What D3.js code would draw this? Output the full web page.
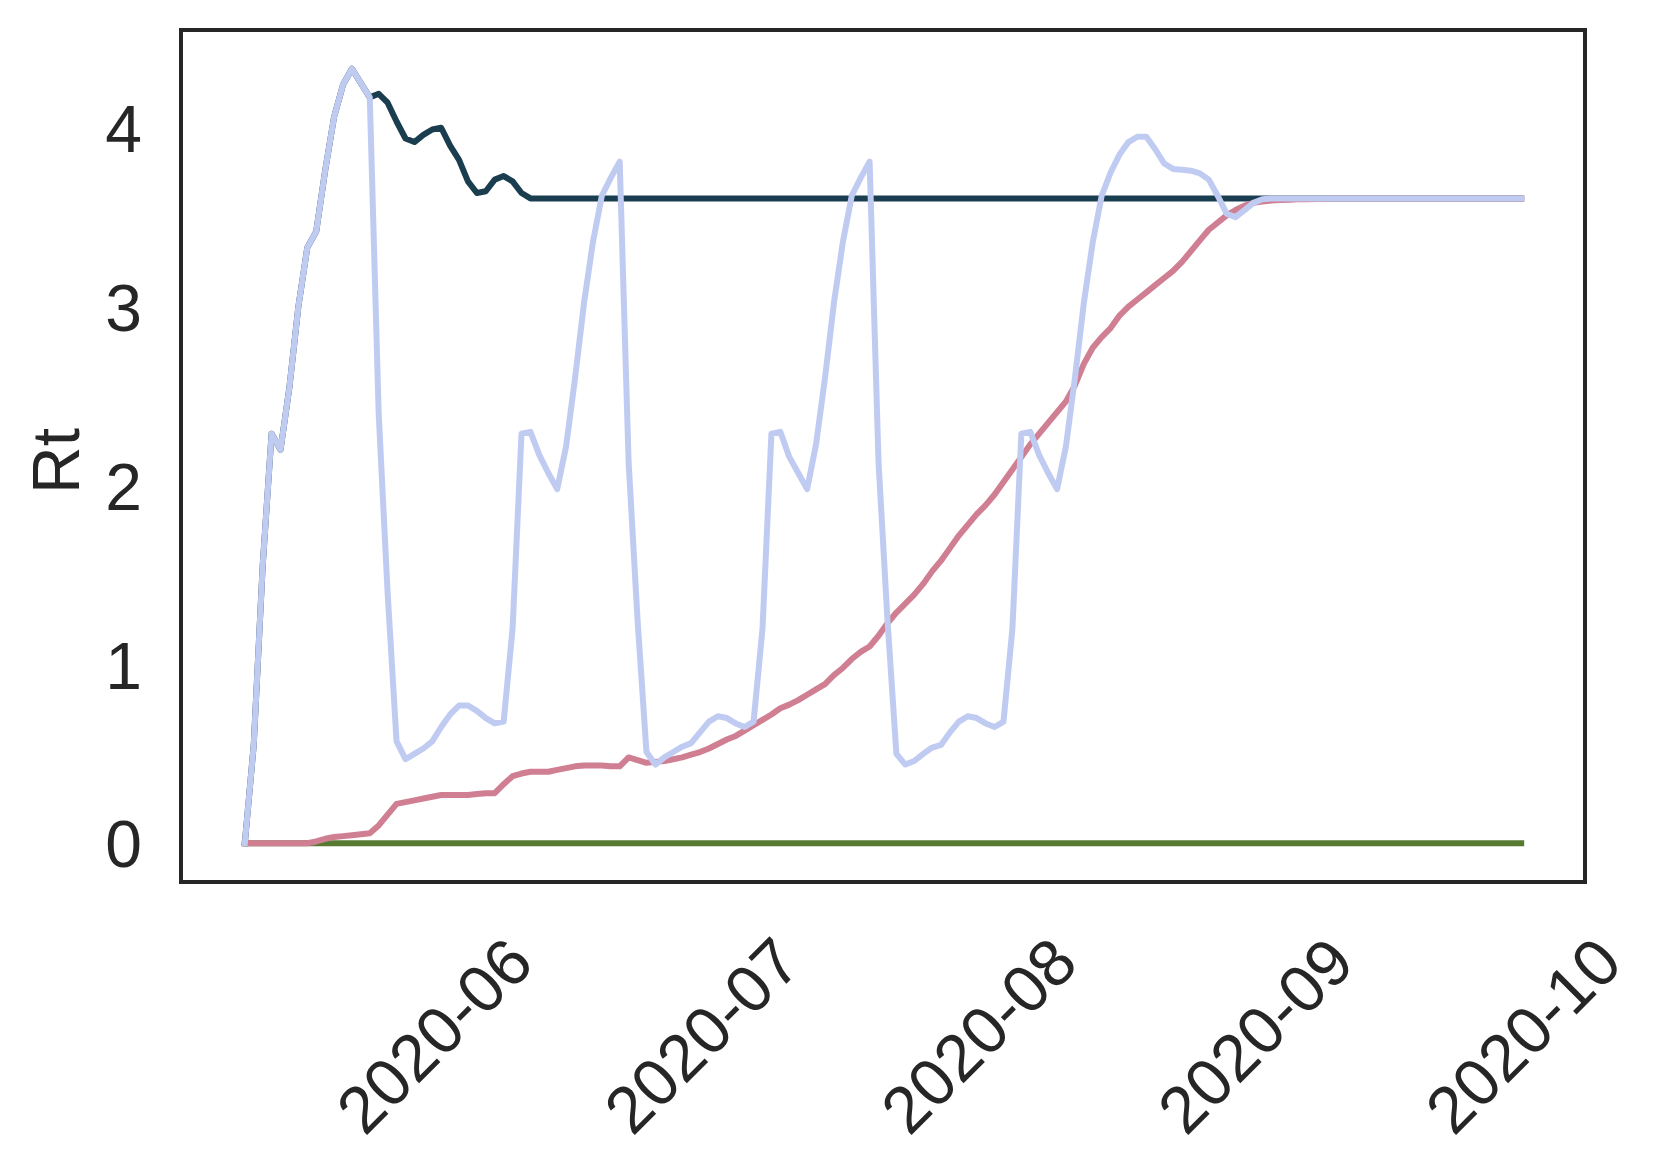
<!DOCTYPE html>
<html><head><meta charset="utf-8">
<script src="https://cdn.jsdelivr.net/npm/d3@7"></script>
<style>
body{margin:0;background:#fff}
text{font-family:"Liberation Sans", Arial, sans-serif; fill:#262626}
</style>
</head><body>
<svg id="c" width="1671" height="1176"></svg>
<script>
// ---------------- data ----------------
const startDate = "2020-05-11";
const xTickLabels = ["2020-06", "2020-07", "2020-08", "2020-09", "2020-10"];
const yTicks = [0, 1, 2, 3, 4];
const yLabel = "Rt";

const seriesNavy = [
  0, 0.55, 1.55, 2.29, 2.20, 2.55, 3.00, 3.33, 3.42, 3.76,
  4.06, 4.24, 4.33, 4.25, 4.17, 4.19, 4.14, 4.035, 3.94, 3.92,
  3.96, 3.99, 4.00, 3.90, 3.82, 3.70, 3.635, 3.645, 3.71, 3.73,
  3.70, 3.635, 3.605, 3.605, 3.605, 3.605, 3.605, 3.605, 3.605, 3.605,
  3.605, 3.605, 3.605, 3.605, 3.605, 3.605, 3.605, 3.605, 3.605, 3.605,
  3.605, 3.605, 3.605, 3.605, 3.605, 3.605, 3.605, 3.605, 3.605, 3.605,
  3.605, 3.605, 3.605, 3.605, 3.605, 3.605, 3.605, 3.605, 3.605, 3.605,
  3.605, 3.605, 3.605, 3.605, 3.605, 3.605, 3.605, 3.605, 3.605, 3.605,
  3.605, 3.605, 3.605, 3.605, 3.605, 3.605, 3.605, 3.605, 3.605, 3.605,
  3.605, 3.605, 3.605, 3.605, 3.605, 3.605, 3.605, 3.605, 3.605, 3.605,
  3.605, 3.605, 3.605, 3.605, 3.605, 3.605, 3.605, 3.605, 3.605, 3.605,
  3.605, 3.605, 3.605, 3.605, 3.605, 3.605, 3.605, 3.605, 3.605, 3.605,
  3.605, 3.605, 3.605, 3.605, 3.605, 3.605, 3.605, 3.605, 3.605, 3.605,
  3.605, 3.605, 3.605, 3.605, 3.605, 3.605, 3.605, 3.605, 3.605, 3.605,
  3.605, 3.605, 3.605, 3.605
];

const seriesGreen = [
  0,0,0,0,0,0,0,0,0,0, 0,0,0,0,0,0,0,0,0,0, 0,0,0,0,0,0,0,0,0,0,
  0,0,0,0,0,0,0,0,0,0, 0,0,0,0,0,0,0,0,0,0, 0,0,0,0,0,0,0,0,0,0,
  0,0,0,0,0,0,0,0,0,0, 0,0,0,0,0,0,0,0,0,0, 0,0,0,0,0,0,0,0,0,0,
  0,0,0,0,0,0,0,0,0,0, 0,0,0,0,0,0,0,0,0,0, 0,0,0,0,0,0,0,0,0,0,
  0,0,0,0,0,0,0,0,0,0, 0,0,0,0,0,0,0,0,0,0, 0,0,0,0
];

const seriesPink = [
  0, 0, 0, 0, 0, 0, 0, 0, 0.01, 0.025,
  0.035, 0.04, 0.045, 0.05, 0.056, 0.10, 0.16, 0.22, 0.23, 0.24,
  0.25, 0.26, 0.27, 0.27, 0.27, 0.27, 0.275, 0.28, 0.28, 0.33,
  0.375, 0.39, 0.40, 0.40, 0.40, 0.41, 0.42, 0.43, 0.435, 0.435,
  0.435, 0.43, 0.43, 0.48, 0.465, 0.45, 0.455, 0.46, 0.47, 0.48,
  0.495, 0.51, 0.53, 0.555, 0.58, 0.60, 0.63, 0.66, 0.69, 0.72,
  0.755, 0.775, 0.80, 0.83, 0.86, 0.89, 0.94, 0.98, 1.03, 1.07,
  1.10, 1.16, 1.23, 1.29, 1.34, 1.39, 1.45, 1.52, 1.58, 1.65,
  1.72, 1.78, 1.84, 1.89, 1.95, 2.02, 2.09, 2.16, 2.23, 2.29,
  2.35, 2.41, 2.47, 2.56, 2.68, 2.77, 2.83, 2.88, 2.95, 3.00,
  3.04, 3.08, 3.12, 3.16, 3.20, 3.25, 3.31, 3.37, 3.43, 3.47,
  3.51, 3.54, 3.565, 3.58, 3.588, 3.593, 3.596, 3.598, 3.600, 3.601,
  3.602, 3.603, 3.604, 3.605, 3.605, 3.605, 3.605, 3.605, 3.605, 3.605,
  3.605, 3.605, 3.605, 3.605, 3.605, 3.605, 3.605, 3.605, 3.605, 3.605,
  3.605, 3.605, 3.605, 3.605
];

const seriesLight = [
  0, 0.55, 1.55, 2.29, 2.20, 2.55, 3.00, 3.33, 3.42, 3.76,
  4.06, 4.24, 4.33, 4.25, 4.17, 2.40, 1.40, 0.57, 0.47, 0.50,
  0.53, 0.57, 0.65, 0.72, 0.77, 0.77, 0.74, 0.70, 0.67, 0.68,
  1.20, 2.29, 2.30, 2.17, 2.07, 1.98, 2.22, 2.60, 3.02, 3.36,
  3.62, 3.72, 3.81, 2.13, 1.25, 0.51, 0.44, 0.48, 0.51, 0.54,
  0.56, 0.62, 0.68, 0.71, 0.70, 0.67, 0.65, 0.68, 1.20, 2.29,
  2.30, 2.16, 2.07, 1.98, 2.23, 2.60, 3.02, 3.36, 3.62, 3.72,
  3.81, 2.13, 1.25, 0.50, 0.44, 0.46, 0.50, 0.535, 0.55, 0.62,
  0.68, 0.71, 0.70, 0.67, 0.65, 0.68, 1.20, 2.29, 2.30, 2.17,
  2.07, 1.98, 2.22, 2.60, 3.02, 3.36, 3.62, 3.75, 3.85, 3.92,
  3.95, 3.95, 3.88, 3.80, 3.77, 3.765, 3.76, 3.745, 3.71, 3.62,
  3.52, 3.50, 3.54, 3.58, 3.60, 3.605, 3.605, 3.605, 3.605, 3.605,
  3.605, 3.605, 3.605, 3.605, 3.605, 3.605, 3.605, 3.605, 3.605, 3.605,
  3.605, 3.605, 3.605, 3.605, 3.605, 3.605, 3.605, 3.605, 3.605, 3.605,
  3.605, 3.605, 3.605, 3.605
];

const seriesList = [seriesNavy, seriesGreen, seriesPink, seriesLight];
const seriesColors = ["#1a3e50", "#567a31", "#d07f93", "#c0cbf2"];

// ---------------- layout ----------------
const plot = {left: 181, right: 1585, top: 30, bottom: 882};
const FS = 66;
const svg = d3.select("#c");

const t0 = d3.utcParse("%Y-%m-%d")(startDate);
const dates = seriesNavy.map((_, i) => d3.utcDay.offset(t0, i));
const xExt = d3.extent(dates);
const span = xExt[1] - xExt[0];
const x = d3.scaleUtc()
  .domain([new Date(+xExt[0] - 0.05 * span), new Date(+xExt[1] + 0.05 * span)])
  .range([plot.left, plot.right]);

const allVals = seriesList.flat();
const yMin = d3.min(allVals), yMax = d3.max(allVals), yr = yMax - yMin;
const y = d3.scaleLinear()
  .domain([yMin - 0.05 * yr, yMax + 0.05 * yr])
  .range([plot.bottom, plot.top]);

svg.append("defs").append("clipPath").attr("id", "clip")
  .append("rect").attr("x", plot.left).attr("y", plot.top)
  .attr("width", plot.right - plot.left).attr("height", plot.bottom - plot.top);

const line = d3.line().x((d, i) => x(dates[i])).y(d => y(d));
const g = svg.append("g").attr("clip-path", "url(#clip)");
seriesList.forEach((s, k) => {
  g.append("path").datum(s)
    .attr("d", line)
    .attr("fill", "none")
    .attr("stroke", seriesColors[k])
    .attr("stroke-width", 6)
    .attr("stroke-linejoin", "round")
    .attr("stroke-linecap", "square");
});

// frame
svg.append("rect")
  .attr("x", plot.left).attr("y", plot.top)
  .attr("width", plot.right - plot.left).attr("height", plot.bottom - plot.top)
  .attr("fill", "none").attr("stroke", "#262626").attr("stroke-width", 4);

// y ticks
const yAxis = d3.axisLeft(y).tickValues(yTicks).tickSize(0).tickPadding(39).tickFormat(d3.format("d"));
const ya = svg.append("g").attr("transform", `translate(${plot.left},0)`).call(yAxis);
ya.select(".domain").remove();
ya.selectAll("text")
  .attr("font-size", FS)
  .attr("font-family", '"Liberation Sans", Arial, sans-serif')
  .attr("fill", "#262626")
  .attr("dy", (0.358 * FS) + "px");

// x ticks (rotated)
const parseM = d3.utcParse("%Y-%m");
const xAxis = d3.axisBottom(x).tickValues(xTickLabels.map(parseM)).tickSize(0).tickFormat(d3.utcFormat("%Y-%m"));
const xa = svg.append("g").attr("transform", `translate(0,${plot.bottom})`).call(xAxis);
xa.select(".domain").remove();
xa.selectAll(".tick text")
  .attr("font-size", FS)
  .attr("font-family", '"Liberation Sans", Arial, sans-serif')
  .attr("fill", "#262626")
  .attr("text-anchor", "middle")
  .attr("y", 0)
  .attr("transform", "translate(1,153) rotate(-45)")
  .attr("dy", (0.358 * FS) + "px");

// y label
svg.append("text")
  .attr("transform", `translate(55,461) rotate(-90)`)
  .attr("text-anchor", "middle")
  .attr("dy", (0.358 * FS) + "px")
  .attr("font-size", FS)
  .text(yLabel);
</script>
</body></html>
